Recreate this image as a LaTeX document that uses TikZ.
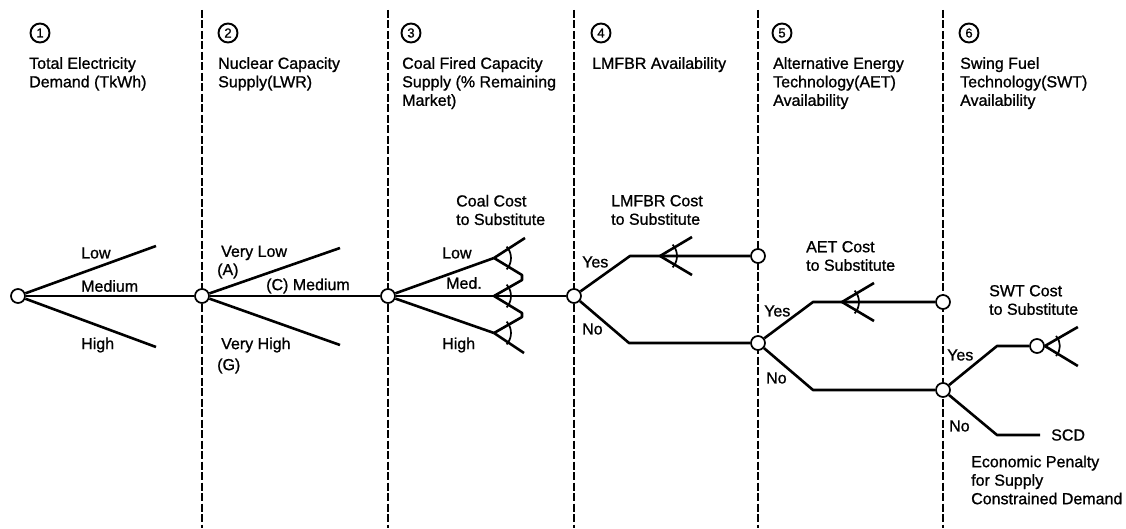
\documentclass[tikz,border=0pt]{standalone}
\usepackage{fontspec}
\setmainfont{Liberation Sans}[BoldFont=Liberation Sans, BoldFeatures={FakeBold=1}]
\usetikzlibrary{positioning}

% arc marking the cost-to-substitute fan
\newcommand{\costarc}[2][17]{\draw[costmark] ([shift={(-42:#1)}]#2) arc[start angle=-42, end angle=42, radius=#1];}
\newcommand{\costfan}[1]{\draw[branch] (#1) -- ++(32,19) (#1) -- ++(32,-19); \costarc{#1}}

\begin{document}
\begin{tikzpicture}[
  x=1pt, y=1pt,
  font=\fontsize{16}{18.5}\selectfont\bfseries,
  chance/.style={circle, draw, line width=1.7pt, fill=white, inner sep=0pt, minimum size=14pt},
  branch/.style={line width=2.6pt, line join=round},
  divider/.style={line width=1.3pt, dash pattern=on 8pt off 2.5pt},
  costmark/.style={line width=1.7pt},
  lbl/.style={anchor=west, inner sep=0pt},
  head/.style={anchor=north west, align=left, inner sep=0pt},
  num/.style={circle, draw, line width=1.9pt, inner sep=0pt, minimum size=19pt, font=\fontsize{13}{13}\selectfont\bfseries}
]
  \useasboundingbox (0,0) rectangle (1126,528);

  % column dividers
  \foreach \x in {202,388,574,758,943}
    \draw[divider] (\x,518) -- (\x,0);

  % column headings
  \node[num] (num1) at (40,495) {1};
  \node[head] (head1) at (29,471) {Total Electricity\\Demand (TkWh)};
  \node[num] (num2) at (228,495) {2};
  \node[head] (head2) at (218,471) {Nuclear Capacity\\Supply(LWR)};
  \node[num] (num3) at (411,495) {3};
  \node[head] (head3) at (402,471) {Coal Fired Capacity\\Supply (\% Remaining\\Market)};
  \node[num] (num4) at (601,495) {4};
  \node[head] (head4) at (592,471) {LMFBR Availability};
  \node[num] (num5) at (782,495) {5};
  \node[head] (head5) at (773,471) {Alternative Energy\\Technology(AET)\\Availability};
  \node[num] (num6) at (969,495) {6};
  \node[head] (head6) at (960,471) {Swing Fuel\\Technology(SWT)\\Availability};

  % chance nodes
  \node[chance] (dem) at (18,232) {};
  \node[chance] (nuc) at (202,232) {};
  \node[chance] (coal) at (388,232) {};
  \node[chance] (lmf) at (574,232) {};
  \node[chance] (aetU) at (758,272) {};
  \node[chance] (aetN) at (758,185) {};
  \node[chance] (swtU) at (943,226) {};
  \node[chance] (swtN) at (943,138) {};
  \node[chance] (swtC) at (1037,182) {};

  % branch ends and kinks
  \coordinate (demL) at (156,282);
  \coordinate (demH) at (156,181);
  \coordinate (nucL) at (340,280);
  \coordinate (nucH) at (340,183);
  \coordinate (coalL) at (494,270);
  \coordinate (coalM) at (494,232);
  \coordinate (coalH) at (494,195);
  \coordinate (lmfY) at (630,272);
  \coordinate (lmfN) at (629,185);
  \coordinate (lmfC) at (660,272);
  \coordinate (aetY) at (813,226);
  \coordinate (aetNo) at (813,138);
  \coordinate (aetC) at (842,226);
  \coordinate (swtY) at (997,182);
  \coordinate (swtNo) at (997,93);
  \coordinate (swtE) at (1040,93);

  % 1: demand
  \draw[branch] (dem) -- (nuc);
  \draw[branch] (dem) -- (demL);
  \draw[branch] (dem) -- (demH);
  \node[lbl] (lDemL) at (81,275) {Low};
  \node[lbl] (lDemM) at (81,242) {Medium};
  \node[lbl] (lDemH) at (81,183) {High};

  % 2: nuclear
  \draw[branch] (nuc) -- (coal);
  \draw[branch] (nuc) -- (nucL);
  \draw[branch] (nuc) -- (nucH);
  \node[lbl] (lNucL) at (221,275) {Very Low};
  \node[lbl] (lNucA) at (217,257) {(A)};
  \node[lbl] (lNucM) at (266,242) {(C) Medium};
  \node[lbl] (lNucH) at (221,183) {Very High};
  \node[lbl] (lNucG) at (217,162) {(G)};

  % 3: coal
  \draw[branch] (coal) -- (lmf);
  \draw[branch] (coal) -- (coalL);
  \draw[branch] (coal) -- (coalH);
  \draw[branch] (coalL) -- ++(31,20);
  \draw[branch] (coalL) -- (522,253) -- (522,248) -- (coalM);
  \draw[branch] (coalM) -- (522,215) -- (522,211) -- (coalH);
  \draw[branch] (coalH) -- ++(30,-20);
  \costarc{coalL}
  \costarc{coalM}
  \costarc{coalH}
  \node[lbl] (lCoalL) at (442,275) {Low};
  \node[lbl] (lCoalM) at (446,245) {Med.};
  \node[lbl] (lCoalH) at (442,183) {High};
  \node[lbl, align=left] (lCoalC) at (456,318) {Coal Cost\\to Substitute};

  % 4: LMFBR
  \draw[branch] (lmf) -- (lmfY) -- (aetU);
  \draw[branch] (lmf) -- (lmfN) -- (aetN);
  \costfan{lmfC}
  \node[lbl] (lLmfY) at (582,266) {Yes};
  \node[lbl] (lLmfN) at (582,199) {No};
  \node[lbl, align=left] (lLmfC) at (611,318) {LMFBR Cost\\to Substitute};

  % 5: AET
  \draw[branch] (aetN) -- (aetY) -- (swtU);
  \draw[branch] (aetN) -- (aetNo) -- (swtN);
  \costfan{aetC}
  \node[lbl] (lAetY) at (764,217) {Yes};
  \node[lbl] (lAetN) at (766,150) {No};
  \node[lbl, align=left] (lAetC) at (806,272) {AET Cost\\to Substitute};

  % 6: SWT
  \draw[branch] (swtN) -- (swtY) -- (swtC);
  \draw[branch] (swtN) -- (swtNo) -- (swtE);
  \draw[branch] (swtC.east) -- ++(33,19) (swtC.east) -- ++(33,-20);
  \costarc[15]{swtC.east}
  \node[lbl, right=11pt of swtE] (scd) {SCD};
  \node[lbl] (lSwtY) at (947,173) {Yes};
  \node[lbl] (lSwtN) at (949,102) {No};
  \node[lbl, align=left] (lSwtC) at (989,228) {SWT Cost\\to Substitute};
  \node[lbl, align=left] (lScd) at (971,48) {Economic Penalty\\for Supply\\Constrained Demand};
\end{tikzpicture}
\end{document}
